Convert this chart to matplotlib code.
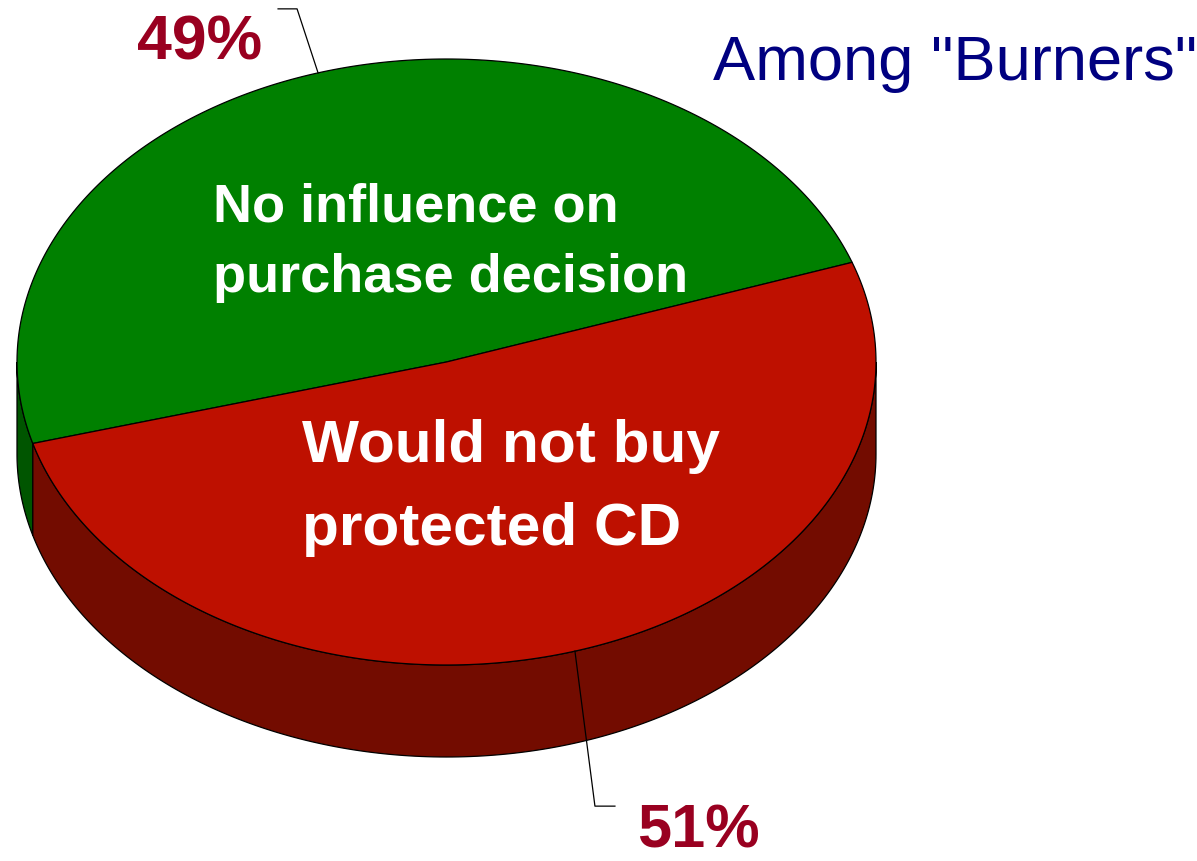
import numpy as np
import matplotlib
matplotlib.use("Agg")
from matplotlib import pyplot as plt
from matplotlib.patches import Polygon

plt.rcParams['font.family'] = ['Liberation Sans', 'DejaVu Sans']

# shares of respondents
labels = ['No influence on\npurchase decision', 'Would not buy\nprotected CD']
values = [49, 51]
pct_labels = ['49%', '51%']
title = 'Among "Burners"'

top_colors = ['#008000', '#BE1000']
side_colors = ['#005500', '#730C00']
pct_color = '#990020'

# pie geometry in pixel units
cx, cy = 446.5, 362.0
rx, ry = 429.5, 303.0
depth = 92.0
start = 19.2   # degrees, counter-clockwise

fig = plt.figure(figsize=(11.97, 8.61), dpi=100)
ax = fig.add_axes([0, 0, 1, 1])
ax.set_xlim(0, 1197)
ax.set_ylim(861, 0)
ax.axis('off')


def rim(t0, t1, dy=0.0, n=200):
    t = np.radians(np.linspace(t0, t1, n))
    return np.column_stack([cx + rx * np.cos(t), cy - ry * np.sin(t) + dy])


angles = np.cumsum([0] + values) / sum(values) * 360 + start
lw = 0.9

# side walls (front half only: 180..360 deg)
for i in range(len(values)):
    a0, a1 = angles[i], angles[i + 1]
    for off in (0, 360):
        s0 = max(a0, 180 + off)
        s1 = min(a1, 360 + off)
        if s1 <= s0:
            continue
        top = rim(s0, s1)
        bot = rim(s1, s0, depth)
        ax.add_patch(Polygon(np.vstack([top, bot]), closed=True,
                             facecolor=side_colors[i], edgecolor='black', lw=lw))

# top faces
for i in range(len(values)):
    pts = np.vstack([[cx, cy], rim(angles[i], angles[i + 1])])
    ax.add_patch(Polygon(pts, closed=True, facecolor=top_colors[i],
                         edgecolor='black', lw=lw, joinstyle='round'))

# leader lines and percentage labels
mids = (angles[:-1] + angles[1:]) / 2
# 49% : up and left
p = rim(mids[0], mids[0], n=1)[0]
ax.plot([p[0], p[0] - 21, p[0] - 40], [p[1], p[1] - 64, p[1] - 64],
        color='black', lw=0.9)
ax.text(137, 60, pct_labels[0], color=pct_color, fontsize=45,
        fontweight='bold', ha='left', va='baseline')
# 51% : down through the side wall
p = rim(mids[1], mids[1], n=1)[0]
ax.plot([p[0], p[0] + 20, p[0] + 40], [p[1], p[1] + 155, p[1] + 155],
        color='black', lw=0.9)
ax.text(637, 847, pct_labels[1], color=pct_color, fontsize=44,
        fontweight='bold', ha='left', va='baseline')

# slice captions
l0 = labels[0].split('\n')
ax.text(213, 222, l0[0], color='white', fontsize=39, fontweight='bold',
        ha='left', va='baseline')
ax.text(213, 292, l0[1], color='white', fontsize=39, fontweight='bold',
        ha='left', va='baseline')
l1 = labels[1].split('\n')
ax.text(302, 462, l1[0], color='white', fontsize=43.5, fontweight='bold',
        ha='left', va='baseline')
ax.text(302, 545, l1[1], color='white', fontsize=43.5, fontweight='bold',
        ha='left', va='baseline')

ax.text(713, 80, title, color='#000080', fontsize=45.5, ha='left', va='baseline')

fig.savefig('out.png', dpi=100, facecolor='white')
